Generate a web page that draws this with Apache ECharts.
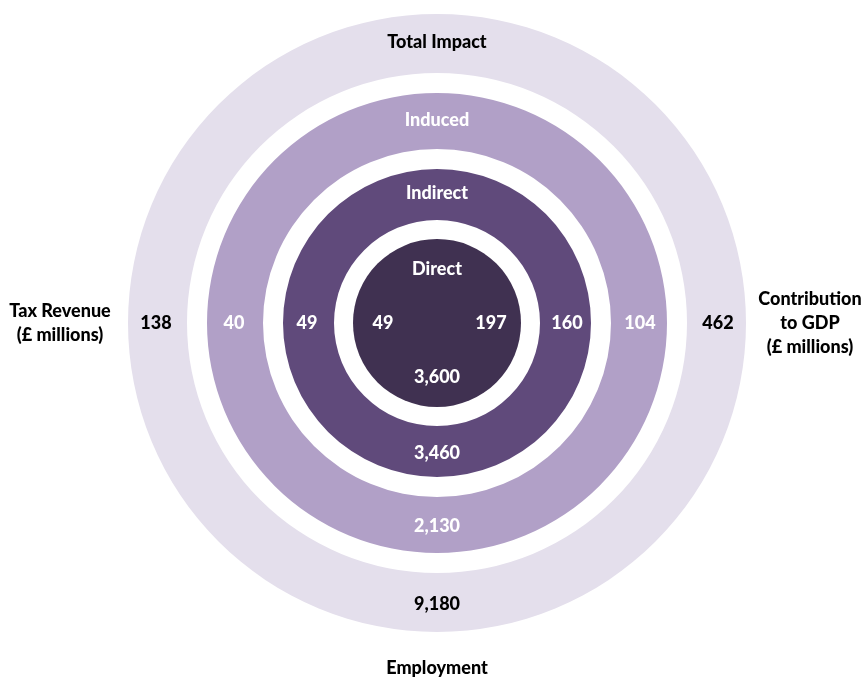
<!DOCTYPE html>
<html>
<head>
<meta charset="utf-8">
<script src="https://cdn.jsdelivr.net/npm/echarts@6/dist/echarts.min.js"></script>
<style>
html,body{margin:0;padding:0;background:#fff;}
#chart{width:867px;height:677px;}
</style>
</head>
<body>
<div id="chart"></div>
<script>
// ---- data ----
const ringNames = ['Total Impact', 'Induced', 'Indirect', 'Direct'];
const taxRevenue = [138, 40, 49, 49];          // £ millions
const gdpContribution = [462, 104, 160, 197];  // £ millions
const employment = [9180, 2130, 3460, 3600];   // jobs
const axisTitles = ['Tax Revenue\n(£ millions)', 'Contribution\nto GDP\n(£ millions)', 'Employment'];

// ---- styling / geometry ----
const center = [437, 323];
const ringRadii = [[250, 309], [174, 230], [103, 154], [0, 84]];
const labelRadius = [281, 203, 130, 54];
const ringColors = ['#E4DFEC', '#B1A0C7', '#604A7B', '#403151'];
const textColors = ['#000000', '#ffffff', '#ffffff', '#ffffff'];
const titleRadius = [377, 373, 345];
const FONT = 'Lato';

const fmt = v => v.toLocaleString('en-GB');

const pies = ringNames.map((name, i) => ({
  type: 'pie',
  center: center,
  radius: ringRadii[i],
  silent: true,
  animation: false,
  label: { show: false },
  labelLine: { show: false },
  emphasis: { disabled: true },
  itemStyle: { color: ringColors[i], borderWidth: 0 },
  data: [{ value: 1, name: name }]
}));

// label points: [radius, angle]  angle: 0 right, 90 top, 180 left, 270 bottom
const labelPoints = [];
ringNames.forEach((name, i) => {
  const c = textColors[i];
  labelPoints.push({ value: [labelRadius[i], 90], text: name, color: c });
  labelPoints.push({ value: [labelRadius[i], 180], text: String(taxRevenue[i]), color: c });
  labelPoints.push({ value: [labelRadius[i], 0], text: String(gdpContribution[i]), color: c });
  labelPoints.push({ value: [labelRadius[i], 270], text: fmt(employment[i]), color: c });
});
[180, 0, 270].forEach((ang, k) => {
  labelPoints.push({ value: [titleRadius[k], ang], text: axisTitles[k], color: '#000000' });
});

const chart = echarts.init(document.getElementById('chart'), null, { renderer: 'canvas' });
chart.setOption({
  backgroundColor: '#ffffff',
  animation: false,
  polar: { center: center, radius: 400 },
  radiusAxis: { type: 'value', min: 0, max: 400, show: false },
  angleAxis: { type: 'value', min: 0, max: 360, startAngle: 0, clockwise: false, show: false },
  series: pies.concat([{
    type: 'scatter',
    coordinateSystem: 'polar',
    silent: true,
    clip: false,
    symbolSize: 1,
    itemStyle: { color: 'rgba(0,0,0,0)' },
    z: 10,
    data: labelPoints.map(p => ({
      value: p.value,
      label: {
        show: true,
        position: 'inside',
        formatter: p.text,
        color: p.color,
        opacity: 1,
        fontFamily: FONT,
        fontWeight: 900,
        fontSize: 18,
        lineHeight: 24,
        align: 'center',
        verticalAlign: 'middle'
      }
    }))
  }])
});
</script>
</body>
</html>
